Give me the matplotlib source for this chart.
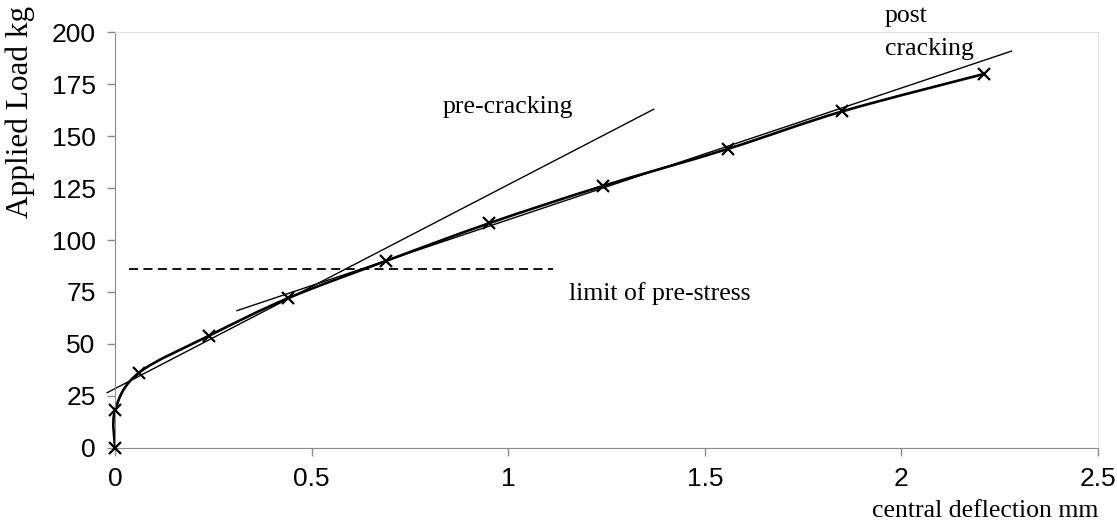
import numpy as np
import matplotlib
matplotlib.use("Agg")
import matplotlib.pyplot as plt
from matplotlib.path import Path
from matplotlib.patches import PathPatch

# Datos
deflection = [0.0, 0.0, 0.06, 0.24, 0.44, 0.69, 0.95, 1.24, 1.56, 1.85, 2.21]
load = [0, 18, 36, 54, 72, 90, 108, 126, 144, 162, 180]

# Rectas tangentes y límite de pretensado
pre_x = [-0.02, 1.37]
pre_y = [26.5, 163]
post_x = [0.31, 2.28]
post_y = [66, 191]
limit_x = [0.035, 1.115]
limit_y = [86, 86]

xticks = [0, 0.5, 1, 1.5, 2, 2.5]
xticklabels = ["0", "0.5", "1", "1.5", "2", "2.5"]
yticks = [0, 25, 50, 75, 100, 125, 150, 175, 200]

serif = "Liberation Serif"
sans = "Liberation Sans"


def smooth_path(x, y):
    # Curva suavizada tipo Excel (Bezier de Catmull-Rom)
    p = np.column_stack([x, y]).astype(float)
    n = len(p)
    verts = [p[0]]
    codes = [Path.MOVETO]
    for i in range(n - 1):
        p0 = p[max(i - 1, 0)]
        p3 = p[min(i + 2, n - 1)]
        c1 = p[i] + (p[i + 1] - p0) / 6
        c2 = p[i + 1] - (p3 - p[i]) / 6
        verts += [c1, c2, p[i + 1]]
        codes += [Path.CURVE4] * 3
    return Path(verts, codes)


fig = plt.figure(figsize=(11.17, 5.29), dpi=100)
ax = fig.add_axes([0.103, 0.1537, 0.880, 0.785])

ax.add_patch(PathPatch(smooth_path(deflection, load), fill=False,
                       edgecolor="black", linewidth=1.9, clip_on=False))
ax.plot(deflection, load, linestyle="none", marker="x", markersize=9,
        markeredgewidth=1.6, color="black", clip_on=False, zorder=3)

ax.plot(pre_x, pre_y, color="black", linewidth=1.0, clip_on=False)
ax.plot(post_x, post_y, color="black", linewidth=1.0, clip_on=False)
ax.plot(limit_x, limit_y, color="black", linewidth=1.3, linestyle=(0, (5, 3)))

ax.set_xlim(0, 2.5)
ax.set_ylim(0, 200)
ax.set_xticks(xticks)
ax.set_xticklabels(xticklabels)
ax.set_yticks(yticks)
for lab in ax.get_xticklabels() + ax.get_yticklabels():
    lab.set_fontfamily(sans)
    lab.set_fontsize(19)
ax.tick_params(axis="both", direction="out", length=6, width=1, color="#8c8c8c",
               pad=8)

ax.spines["left"].set_color("#8c8c8c")
ax.spines["bottom"].set_color("#8c8c8c")
ax.spines["top"].set_color("#e0e0e0")
ax.spines["right"].set_color("#e0e0e0")

# Etiquetas de texto
txt = dict(family=serif, color="black")
ax.text(0.833, 161, "pre-cracking", va="baseline", fontsize=18.5, **txt)
ax.text(1.155, 71, "limit of pre-stress", va="baseline", fontsize=18.5, **txt)
ax.text(1.958, 205, "post", va="baseline", fontsize=18.5, **txt)
ax.text(1.958, 189, "cracking", va="baseline", fontsize=18.5, **txt)
ax.text(1.0, -0.166, "central deflection mm", transform=ax.transAxes,
        ha="right", va="baseline", fontsize=18.5, **txt)
ax.text(-0.0966, 0.808, "Applied Load kg", transform=ax.transAxes,
        rotation=90, ha="center", va="center", fontsize=22.5, **txt)

fig.savefig("out.png", dpi=100)
